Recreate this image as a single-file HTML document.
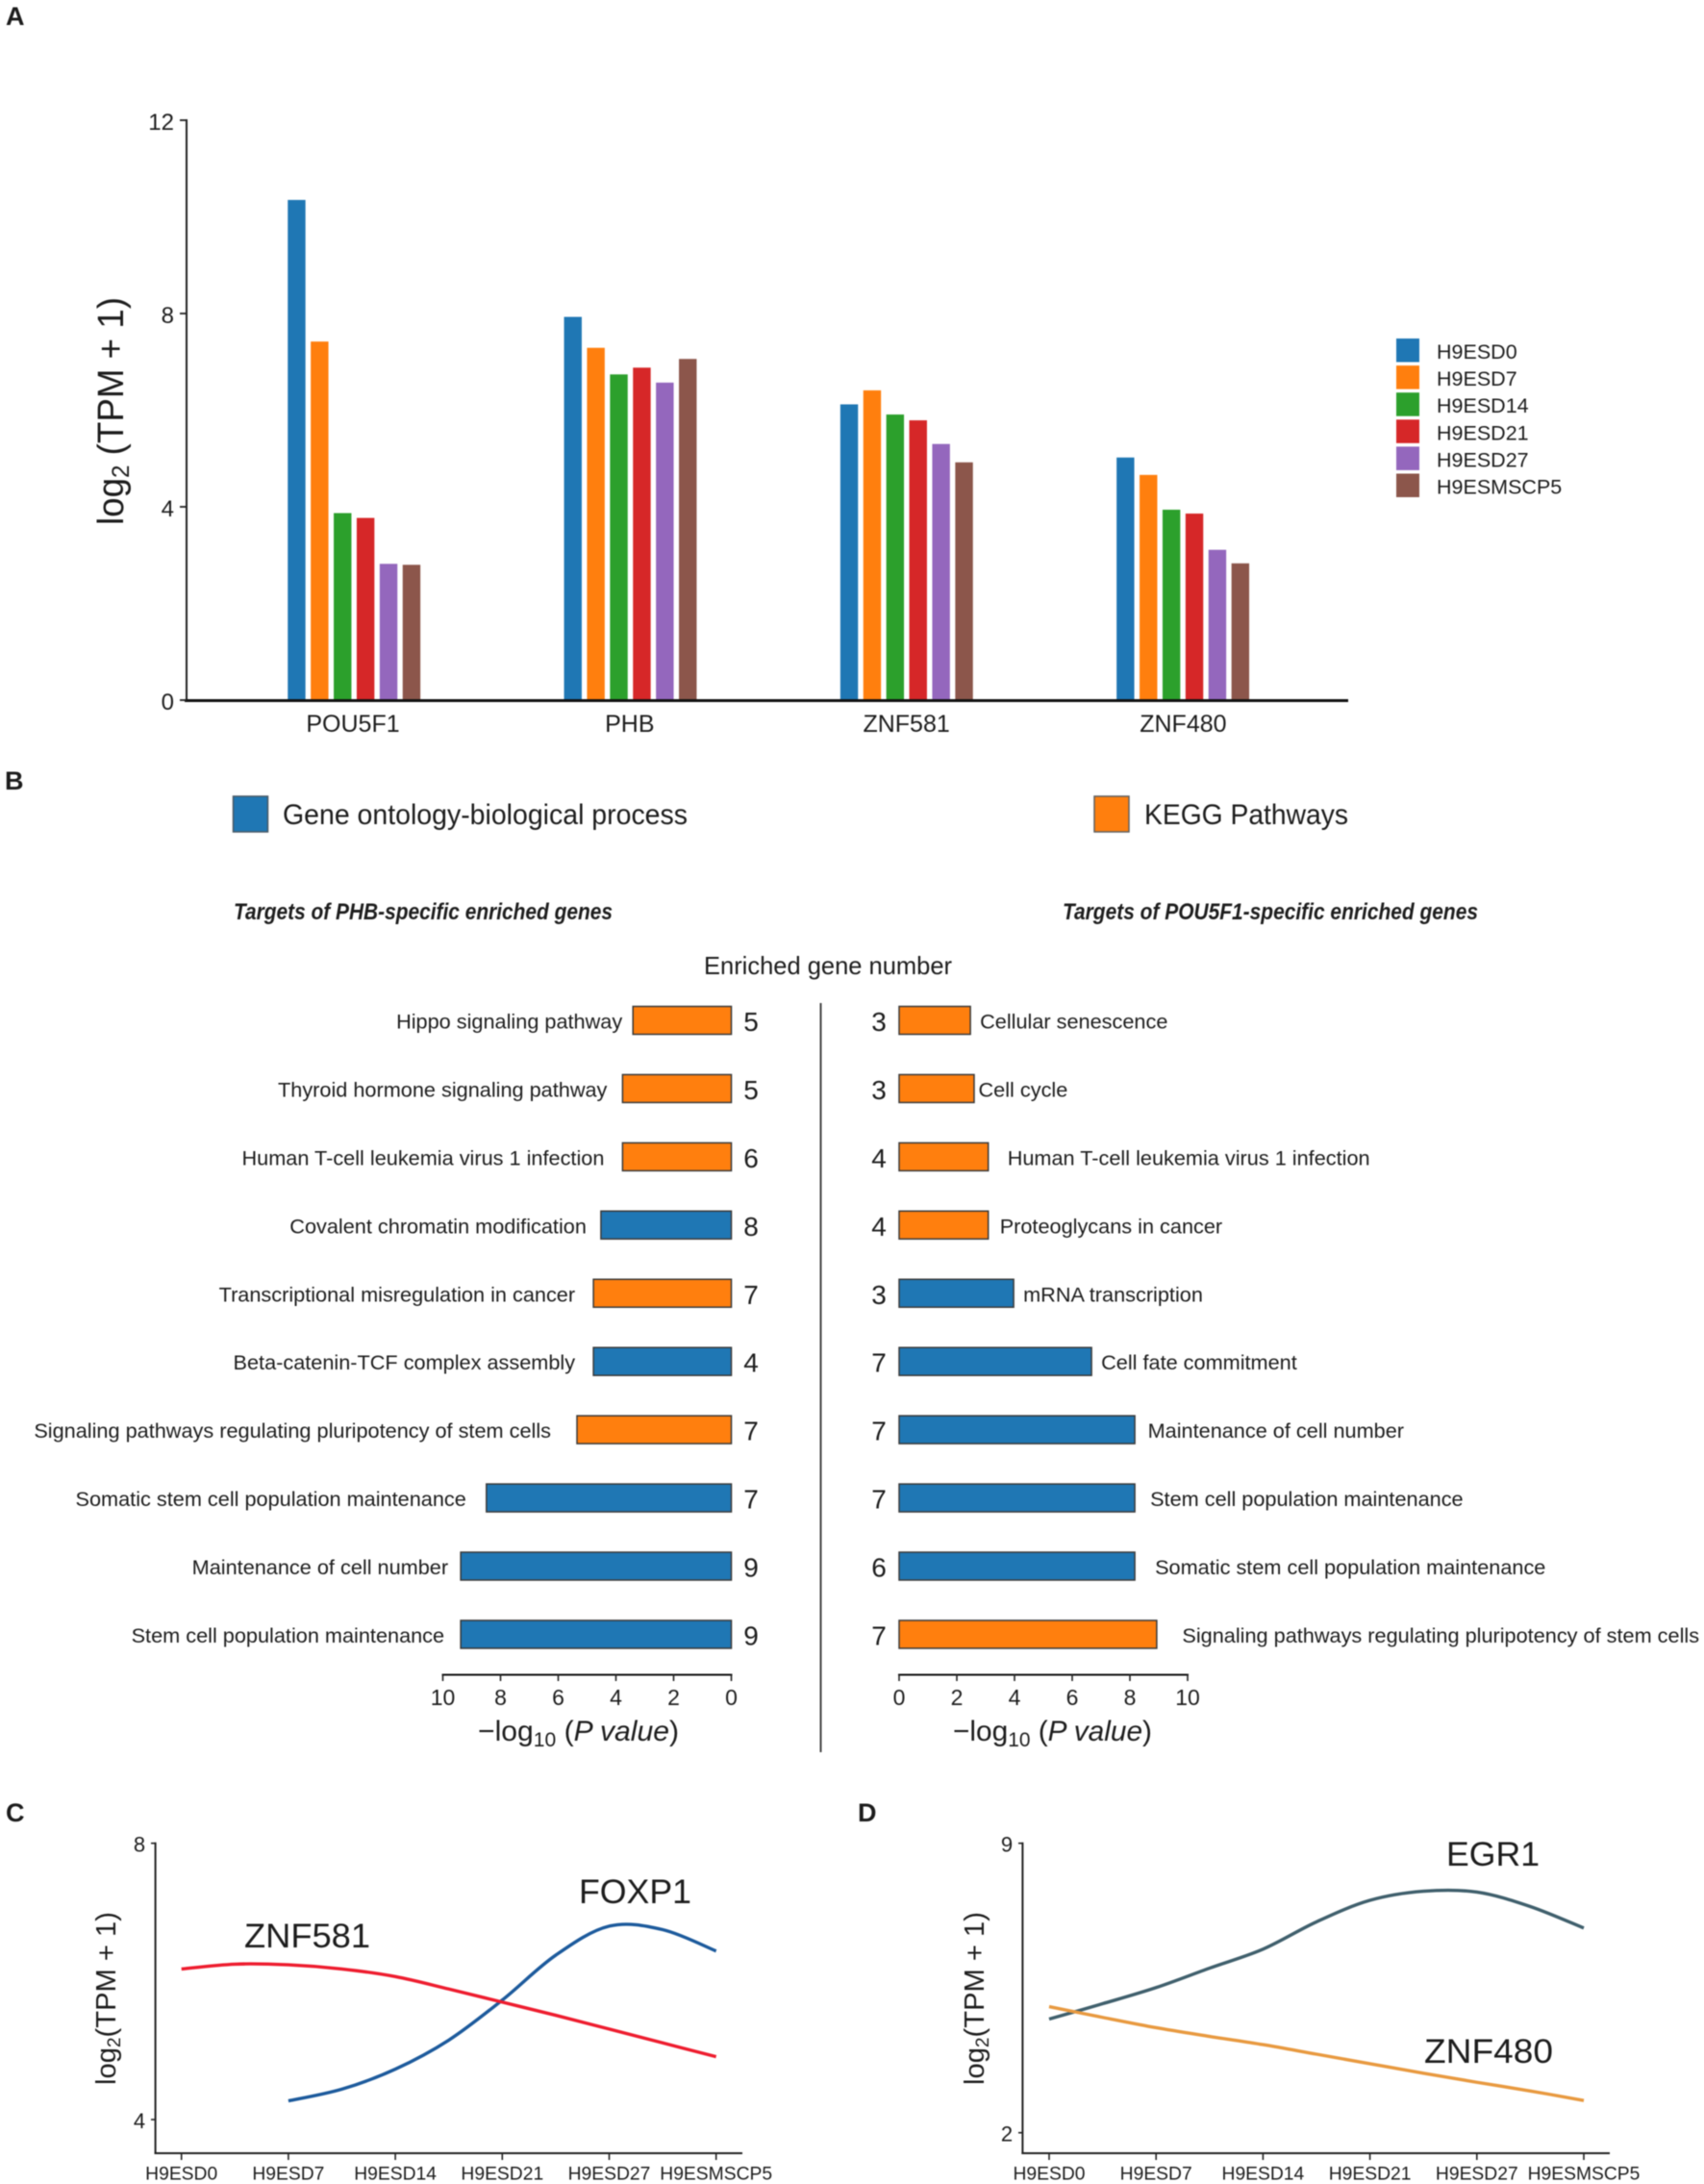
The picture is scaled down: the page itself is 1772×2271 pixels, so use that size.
<!DOCTYPE html>
<html lang="en">
<head>
<meta charset="utf-8">
<title>Gene expression and enrichment figure</title>
<style>
html,body{margin:0;padding:0;background:#fff;}
svg{display:block;filter:blur(0.45px);}
text{font-family:"Liberation Sans",sans-serif;fill:#1c1c1c;}
</style>
</head>
<body>
<svg id="fig" xmlns="http://www.w3.org/2000/svg" width="1772" height="2271" viewBox="0 0 1772 2271">
<rect x="0" y="0" width="1772" height="2271" fill="#fff"/>

<text x="6" y="26" font-size="27" font-weight="700" fill="#000">A</text>
<text x="5" y="821" font-size="27" font-weight="700" fill="#000">B</text>
<text x="6" y="1894" font-size="27" font-weight="700" fill="#000">C</text>
<text x="892" y="1894" font-size="27" font-weight="700" fill="#000">D</text>

<text transform="translate(128,546) rotate(-90)" font-size="38" textLength="237" lengthAdjust="spacingAndGlyphs">log<tspan font-size="25" dy="6">2</tspan><tspan dy="-6"> (TPM + 1)</tspan></text>

<rect x="242.5" y="828" width="36" height="37" fill="#1f77b4" stroke="#4a5a66" stroke-width="1.5"/>
<text x="294" y="857" font-size="30" textLength="421" lengthAdjust="spacingAndGlyphs">Gene ontology-biological process</text>
<rect x="1138" y="828" width="36" height="37" fill="#ff7f0e" stroke="#5f5f5f" stroke-width="1.5"/>
<text x="1190" y="857" font-size="30" textLength="212" lengthAdjust="spacingAndGlyphs">KEGG Pathways</text>
<text x="243" y="956" font-size="24" font-weight="700" font-style="italic" textLength="394" lengthAdjust="spacingAndGlyphs">Targets of PHB-specific enriched genes</text>
<text x="1105" y="956" font-size="24" font-weight="700" font-style="italic" textLength="432" lengthAdjust="spacingAndGlyphs">Targets of POU5F1-specific enriched genes</text>
<text x="732" y="1013" font-size="26" textLength="258" lengthAdjust="spacingAndGlyphs">Enriched gene number</text>
<line x1="853.5" y1="1043" x2="853.5" y2="1822" stroke="#444" stroke-width="2"/>
<text x="497" y="1810" font-size="30" textLength="209" lengthAdjust="spacingAndGlyphs">−log<tspan font-size="21" dy="6">10</tspan><tspan dy="-6"> (</tspan><tspan font-style="italic">P value</tspan>)</text>
<text x="991" y="1810" font-size="30" textLength="207" lengthAdjust="spacingAndGlyphs">−log<tspan font-size="21" dy="6">10</tspan><tspan dy="-6"> (</tspan><tspan font-style="italic">P value</tspan>)</text>

<text transform="translate(120,2168) rotate(-90)" font-size="29" textLength="180" lengthAdjust="spacingAndGlyphs">log<tspan font-size="19" dy="5">2</tspan><tspan dy="-5">(TPM + 1)</tspan></text>
<text transform="translate(1023,2168) rotate(-90)" font-size="29" textLength="180" lengthAdjust="spacingAndGlyphs">log<tspan font-size="19" dy="5">2</tspan><tspan dy="-5">(TPM + 1)</tspan></text>
<text x="602" y="1979" font-size="35" textLength="117" lengthAdjust="spacingAndGlyphs">FOXP1</text>
<text x="254" y="2025" font-size="35" textLength="131" lengthAdjust="spacingAndGlyphs">ZNF581</text>
<text x="1504" y="1940" font-size="35" textLength="97" lengthAdjust="spacingAndGlyphs">EGR1</text>
<text x="1481" y="2145" font-size="35" textLength="134" lengthAdjust="spacingAndGlyphs">ZNF480</text>
</svg>

<script>
// Panel A data
const geneCategories = ['POU5F1', 'PHB', 'ZNF581', 'ZNF480'];
const sampleNames = ['H9ESD0', 'H9ESD7', 'H9ESD14', 'H9ESD21', 'H9ESD27', 'H9ESMSCP5'];
const valuesH9ESD0 = [10.35, 7.93, 6.12, 5.02];
const valuesH9ESD7 = [7.42, 7.29, 6.41, 4.66];
const valuesH9ESD14 = [3.87, 6.74, 5.91, 3.94];
const valuesH9ESD21 = [3.77, 6.88, 5.79, 3.86];
const valuesH9ESD27 = [2.82, 6.57, 5.30, 3.11];
const valuesH9ESMSCP5 = [2.80, 7.06, 4.92, 2.83];
const panelATicks = [0, 4, 8, 12];

// Panel B data
const leftTerms = ['Hippo signaling pathway', 'Thyroid hormone signaling pathway', 'Human T-cell leukemia virus 1 infection', 'Covalent chromatin modification', 'Transcriptional misregulation in cancer', 'Beta-catenin-TCF complex assembly', 'Signaling pathways regulating pluripotency of stem cells', 'Somatic stem cell population maintenance', 'Maintenance of cell number', 'Stem cell population maintenance'];
const leftPValues = [3.41, 3.77, 3.77, 4.52, 4.78, 4.78, 5.35, 8.49, 9.38, 9.38];
const leftCounts = [5, 5, 6, 8, 7, 4, 7, 7, 9, 9];
const leftKinds = ['kegg', 'kegg', 'kegg', 'go', 'kegg', 'go', 'kegg', 'go', 'go', 'go'];
const rightTerms = ['Cellular senescence', 'Cell cycle', 'Human T-cell leukemia virus 1 infection', 'Proteoglycans in cancer', 'mRNA transcription', 'Cell fate commitment', 'Maintenance of cell number', 'Stem cell population maintenance', 'Somatic stem cell population maintenance', 'Signaling pathways regulating pluripotency of stem cells'];
const rightPValues = [2.47, 2.60, 3.09, 3.09, 3.97, 6.67, 8.17, 8.17, 8.17, 8.93];
const rightCounts = [3, 3, 4, 4, 3, 7, 7, 7, 6, 7];
const rightKinds = ['kegg', 'kegg', 'kegg', 'kegg', 'go', 'go', 'go', 'go', 'go', 'kegg'];
const pValueTicks = [0, 2, 4, 6, 8, 10];

// Panels C and D data: curve values are read at every half step along the time axis
const timeCategories = ['H9ESD0', 'H9ESD7', 'H9ESD14', 'H9ESD21', 'H9ESD27', 'H9ESMSCP5'];
const znf581Values = [6.18, 6.25, 6.24, 6.18, 6.07, 5.89, 5.70, 5.51, 5.31, 5.11, 4.91];
const foxp1Values = [null, null, 4.27, 4.44, 4.73, 5.15, 5.73, 6.38, 6.80, 6.75, 6.44];
const egr1Values = [4.75, 5.12, 5.51, 5.98, 6.44, 7.10, 7.62, 7.84, 7.82, 7.47, 6.95];
const znf480Values = [5.05, 4.79, 4.54, 4.33, 4.13, 3.90, 3.67, 3.44, 3.22, 3.01, 2.78];
const panelCTicks = [4, 8];
const panelDTicks = [2, 9];

// Layout and styling (separate from data)
const NS = 'http://www.w3.org/2000/svg';
const svg = document.getElementById('fig');
const sampleColors = ['#1f77b4', '#ff7f0e', '#2ca02c', '#d62728', '#9467bd', '#8c564b'];
const kindColors = { go: '#1f77b4', kegg: '#ff7f0e' };
const leftLabelGaps = [11, 16, 19, 15, 19, 19, 27, 21, 13, 17];
const rightLabelGaps = [10, 4.5, 20, 12, 10, 10, 13.5, 16, 21, 26.5];

function add(tag, attrs, text) {
  const node = document.createElementNS(NS, tag);
  for (const k in attrs) node.setAttribute(k, attrs[k]);
  if (text !== undefined) node.textContent = text;
  svg.appendChild(node);
  return node;
}
function line(x1, y1, x2, y2, width, color) {
  return add('line', { x1: x1, y1: y1, x2: x2, y2: y2, stroke: color || '#222', 'stroke-width': width });
}
function slug(s) {
  return String(s).toLowerCase().replace(/[^a-z0-9]+/g, '-').replace(/^-|-$/g, '');
}

// ---------- Panel A ----------
const aY = v => 728 - v * (728 - 125) / 12;
const aGroupX = i => 368.2 + i * 287.3;
const aLabelX = i => 367 + i * 287.8;
const aSeries = [valuesH9ESD0, valuesH9ESD7, valuesH9ESD14, valuesH9ESD21, valuesH9ESD27, valuesH9ESMSCP5];

aSeries.forEach((series, s) => {
  series.forEach((v, g) => {
    const cx = aGroupX(g) + (s - 2.5) * 23.9;
    const el = add('rect', { x: cx - 9.2, y: aY(v), width: 18.4, height: 728 - aY(v), fill: sampleColors[s] });
    
    
  });
});

let axisEl = line(194, 124, 194, 729, 2, '#222');


axisEl = line(192, 728.5, 1402, 728.5, 3, '#111');



panelATicks.forEach(t => {
  const tick = line(187, aY(t), 194, aY(t), 1.8, '#222');
  
  
  const lab = add('text', { x: 181, y: aY(t) + 10, 'font-size': 24, 'text-anchor': 'end' }, t);
  
  
});
geneCategories.forEach((g, i) => {
  const lab = add('text', { x: aLabelX(i), y: 761, 'font-size': 25, 'text-anchor': 'middle' }, g);
  
  
});
sampleNames.forEach((n, i) => {
  const cy = 364 + i * 28.1;
  const sw = add('rect', { x: 1452, y: cy - 12, width: 24, height: 24.5, fill: sampleColors[i] });
  
  
  const lab = add('text', { x: 1494, y: cy + 9, 'font-size': 21.5 }, n);
  
  
});

// ---------- Panel B ----------
const bRowY = i => 1061 + i * 70.94;
const leftX = v => 760.5 - v * 30;
const rightX = v => 935 + v * 30;

leftPValues.forEach((v, i) => {
  const y = bRowY(i);
  const bar = add('rect', { x: leftX(v), y: y - 14.5, width: leftX(0) - leftX(v), height: 29, fill: kindColors[leftKinds[i]], stroke: '#3a3a3a', 'stroke-width': 1.5 });
  
  
  const lab = add('text', { x: leftX(v) - leftLabelGaps[i], y: y + 8.5, 'font-size': 21.7, 'text-anchor': 'end' }, leftTerms[i]);
  
  
  const cnt = add('text', { x: 781, y: y + 11, 'font-size': 28, 'text-anchor': 'middle' }, leftCounts[i]);
  
  
});
rightPValues.forEach((v, i) => {
  const y = bRowY(i);
  const bar = add('rect', { x: rightX(0), y: y - 14.5, width: rightX(v) - rightX(0), height: 29, fill: kindColors[rightKinds[i]], stroke: '#3a3a3a', 'stroke-width': 1.5 });
  
  
  const lab = add('text', { x: rightX(v) + rightLabelGaps[i], y: y + 8.5, 'font-size': 21.7 }, rightTerms[i]);
  
  
  const cnt = add('text', { x: 914, y: y + 11, 'font-size': 28, 'text-anchor': 'middle' }, rightCounts[i]);
  
  
});

let pAxis = line(leftX(10) - 1, 1741.5, leftX(0) + 1, 1741.5, 2, '#111');


pAxis = line(rightX(0) - 1, 1741.5, rightX(10) + 1, 1741.5, 2, '#111');



pValueTicks.forEach(t => {
  const tl = line(leftX(t), 1741, leftX(t), 1748, 1.6, '#222');
  
  
  const ll = add('text', { x: leftX(t), y: 1773, 'font-size': 23, 'text-anchor': 'middle' }, t);
  
  
  const tr = line(rightX(t), 1741, rightX(t), 1748, 1.6, '#222');
  
  
  const lr = add('text', { x: rightX(t), y: 1773, 'font-size': 23, 'text-anchor': 'middle' }, t);
  
  
});

// ---------- Panels C and D ----------
function curvePath(xs, ys) {
  const pts = xs.map((x, i) => [x, ys[i]]);
  let d = 'M' + pts[0][0] + ' ' + pts[0][1];
  for (let i = 0; i < pts.length - 1; i++) {
    const p0 = pts[Math.max(i - 1, 0)], p1 = pts[i], p2 = pts[i + 1], p3 = pts[Math.min(i + 2, pts.length - 1)];
    d += ' C' + (p1[0] + (p2[0] - p0[0]) / 6) + ' ' + (p1[1] + (p2[1] - p0[1]) / 6) + ' ' +
         (p2[0] - (p3[0] - p1[0]) / 6) + ' ' + (p2[1] - (p3[1] - p1[1]) / 6) + ' ' + p2[0] + ' ' + p2[1];
  }
  return d;
}
function curveFrom(values, xFn, yFn) {
  const xs = [], ys = [];
  values.forEach((v, i) => {
    if (v !== null) { xs.push(xFn(i / 2)); ys.push(yFn(v)); }
  });
  return curvePath(xs, ys);
}

const cX = i => 188.7 + i * 111.2;
const cY = v => 1916.7 + (8 - v) * (2204 - 1916.7) / 4;
const dX = i => 1091 + i * 111.2;
const dY = v => 1916.7 + (9 - v) * (2217.7 - 1916.7) / 7;

let frame = line(161.6, 1915.7, 161.6, 2240, 2, '#222');


frame = line(160.6, 2239, 772, 2239, 2, '#222');


frame = line(1063.4, 1915.7, 1063.4, 2240, 2, '#222');


frame = line(1062.4, 2239, 1674, 2239, 2, '#222');



panelCTicks.forEach(t => {
  const tk = line(157, cY(t), 161.6, cY(t), 1.6, '#222');
  
  
  const lb = add('text', { x: 145, y: cY(t) + 9, 'font-size': 22, 'text-anchor': 'middle' }, t);
  
  
});
panelDTicks.forEach(t => {
  const tk = line(1059, dY(t), 1063.4, dY(t), 1.6, '#222');
  
  
  const lb = add('text', { x: 1047, y: dY(t) + 9, 'font-size': 22, 'text-anchor': 'middle' }, t);
  
  
});
timeCategories.forEach((c, i) => {
  const tc = line(cX(i), 2239, cX(i), 2246, 1.6, '#222');
  
  
  const lc = add('text', { x: cX(i), y: 2266.5, 'font-size': 19.3, 'text-anchor': 'middle' }, c);
  
  
  const td = line(dX(i), 2239, dX(i), 2246, 1.6, '#222');
  
  
  const ld = add('text', { x: dX(i), y: 2266.5, 'font-size': 19.3, 'text-anchor': 'middle' }, c);
  
  
});

let curve = add('path', { d: curveFrom(foxp1Values, cX, cY), fill: 'none', stroke: '#1c5a9c', 'stroke-width': 3.4 });


curve = add('path', { d: curveFrom(znf581Values, cX, cY), fill: 'none', stroke: '#ee1c2e', 'stroke-width': 3.4 });


curve = add('path', { d: curveFrom(egr1Values, dX, dY), fill: 'none', stroke: '#3f5f6c', 'stroke-width': 3.4 });


curve = add('path', { d: curveFrom(znf480Values, dX, dY), fill: 'none', stroke: '#e8993f', 'stroke-width': 3.4 });


</script>
</body>
</html>
